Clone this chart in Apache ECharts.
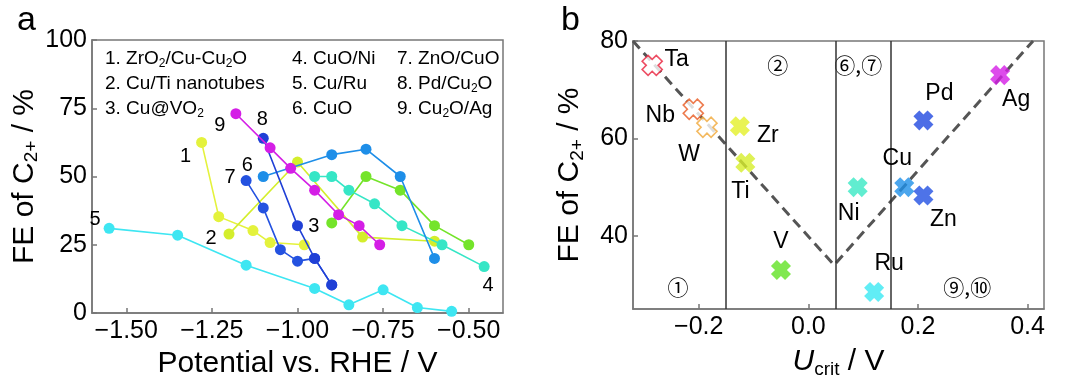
<!DOCTYPE html>
<html>
<head>
<meta charset="utf-8">
<script src="https://cdn.jsdelivr.net/npm/echarts@6/dist/echarts.min.js"></script>
<style>html,body{margin:0;padding:0;background:#fff;}#c{width:1080px;height:384px;}</style>
</head>
<body>
<div id="c"></div>
<script>
// ---------- Panel a data ----------
const seriesLabels = ['1','2','3','4','5','6','7','8','9'];
const legendRows = [
  ['{n|1. ZrO}{s|2}{n|/Cu-Cu}{s|2}{n|O}', '{n|4. CuO/Ni}', '{n|7. ZnO/CuO}'],
  ['{n|2. Cu/Ti nanotubes}', '{n|5. Cu/Ru}', '{n|8. Pd/Cu}{s|2}{n|O}'],
  ['{n|3. Cu@VO}{s|2}', '{n|6. CuO}', '{n|9. Cu}{s|2}{n|O/Ag}']
];
const s1 = [[-1.28,62.5],[-1.23,35.3],[-1.13,30.2],[-1.08,25.8],[-0.98,25]];
const s2 = [[-1.20,28.9],[-1.00,55.3],[-0.81,27.8],[-0.60,26.3]];
const s3 = [[-0.90,33],[-0.80,50],[-0.70,45],[-0.60,32],[-0.50,25]];
const s4 = [[-0.95,50],[-0.90,50],[-0.85,45],[-0.775,40],[-0.695,32],[-0.578,25],[-0.455,17]];
const s5 = [[-1.55,31],[-1.35,28.5],[-1.15,17.5],[-0.95,9],[-0.85,3],[-0.75,8.5],[-0.65,2],[-0.55,0.6]];
const s6 = [[-1.10,50],[-0.90,58],[-0.80,60],[-0.70,50],[-0.60,20]];
const s7 = [[-1.15,48.5],[-1.10,38.5],[-1.05,23.2],[-1.00,19],[-0.95,20],[-0.90,10.3]];
const s8 = [[-1.10,64],[-1.00,32],[-0.95,20],[-0.90,10.3]];
const s9 = [[-1.18,73],[-1.08,60.5],[-1.02,53],[-0.95,45],[-0.88,36],[-0.82,32],[-0.76,25]];
const aTicksX = [-1.5,-1.25,-1.0,-0.75,-0.5];
const aTicksY = [0,25,50,75,100];

// ---------- Panel b data ----------
const elements = ['Ta','Nb','W','Zr','Ti','V','Ni','Ru','Cu','Zn','Pd','Ag'];
const ucrit    = [-0.285,-0.21,-0.185,-0.125,-0.115,-0.05,0.09,0.12,0.175,0.21,0.21,0.35];
const feB      = [75,66,62.3,62.5,55,33,50,28.5,50,48.3,63.7,73];
const hollow   = [true,true,true,false,false,false,false,false,false,false,false,false];
const bTicksX = [-0.2,0.0,0.2,0.4];
const bTicksY = [40,60,80];
const dividers = [-0.155,0.047,0.147];
const vLine = [[-0.32,80],[0.047,34],[0.41,80]];
const regionLabels = ['①','②','⑥,⑦','⑨,⑩'];
const regionX = [-0.238,-0.056,0.091,0.29];
const regionY = [29.6,75,75,29.6];

// ---------- styles ----------
const FONT = 'Liberation Sans, Arial, Helvetica, sans-serif';
const INK = '#000';
const colorsA = ['#e4f23c','#d4ee2c','#74e42a','#36e6c6','#3ee6f2','#1e8ee8','#2452e0','#2040d6','#d41ee6'];
const colorsB = ['#e8203c','#e85a22','#f0a838','#e4f028','#d6ee2a','#62e224','#3ae8c4','#3ae8f2','#1e90e8','#2250e2','#2048e0','#d41ee6'];
const labelPos = [
  {idx:0, position:'left', offset:[0,14]},
  {idx:0, position:'left', offset:[-2,4]},
  {idx:0, position:'left', offset:[-2,4]},
  {idx:'last', position:'bottom', offset:[4,-2]},
  {idx:0, position:'left', offset:[2,-9]},
  {idx:0, position:'left', offset:[0,-11]},
  {idx:0, position:'left', offset:[0,-3]},
  {idx:0, position:'top', offset:[-1,2]},
  {idx:0, position:'left', offset:[0,12]}
];
const bLabelPos = [
  {position:'right', offset:[-6,-6]},
  {position:'left', offset:[0,6]},
  {position:'bottom', offset:[-18,-2]},
  {position:'right', offset:[0,9]},
  {position:'bottom', offset:[-5,0]},
  {position:'top', offset:[0,0]},
  {position:'bottom', offset:[-9,-2]},
  {position:'top', offset:[15,0]},
  {position:'top', offset:[-7,0]},
  {position:'bottom', offset:[20,-4]},
  {position:'top', offset:[16,2]},
  {position:'bottom', offset:[16,-4]}
];
const XPATH = 'path://M0.29,0 L0.71,0 L0.71,0.29 L1,0.29 L1,0.71 L0.71,0.71 L0.71,1 L0.29,1 L0.29,0.71 L0,0.71 L0,0.29 L0.29,0.29 Z';

const fmtA = v => (v < 0 ? '\u2212' : '') + Math.abs(v).toFixed(2);
const fmtB = v => (v < -1e-9 ? '\u2212' : '') + Math.abs(v).toFixed(1);

const richName = {
  n: {fontSize: 30, fontFamily: FONT, color: INK, lineHeight: 34},
  i: {fontSize: 30, fontFamily: FONT, fontStyle: 'italic', color: INK, lineHeight: 34},
  s: {fontSize: 19, fontFamily: FONT, color: INK, lineHeight: 19, verticalAlign: 'bottom'}
};
const richLegend = {
  n: {fontSize: 19, fontFamily: FONT, color: INK, lineHeight: 22},
  s: {fontSize: 12, fontFamily: FONT, color: INK, lineHeight: 12, verticalAlign: 'bottom'}
};
const labelText = (size, fam) => ({fontSize: size, fontFamily: fam || FONT, color: INK,
  textBorderWidth: 0, opacity: 1, fontWeight: 'normal'});

const axisCommon = {
  axisLine: {show: true, onZero: false, lineStyle: {color: '#777', width: 1.5}},
  axisTick: {show: true, inside: true, length: 5, lineStyle: {color: '#777', width: 1.5}},
  splitLine: {show: false},
  axisLabel: {fontSize: 25, fontFamily: FONT, color: INK}
};

const dataA = [s1,s2,s3,s4,s5,s6,s7,s8,s9];
const seriesA = dataA.map((d, k) => {
  const lp = labelPos[k];
  const li = lp.idx === 'last' ? d.length - 1 : lp.idx;
  return {
    type: 'line', xAxisIndex: 0, yAxisIndex: 0,
    symbol: 'circle', symbolSize: 11,
    lineStyle: {color: colorsA[k], width: 1.6},
    itemStyle: {color: colorsA[k]},
    emphasis: {disabled: true},
    z: 2 + k,
    data: d.map((p, j) => j === li ? {
      value: p,
      label: Object.assign({show: true, formatter: seriesLabels[k], position: lp.position, offset: lp.offset,
              distance: 5}, labelText(20))
    } : p)
  };
});

const seriesB = [
  {
    type: 'line', xAxisIndex: 1, yAxisIndex: 1, symbol: 'none', silent: true,
    lineStyle: {color: '#555', width: 3, type: [10, 6]},
    data: vLine,
    markLine: {
      silent: true, symbol: 'none', label: {show: false},
      lineStyle: {color: '#333', width: 1.5, type: 'solid'},
      data: dividers.map(v => ({xAxis: v}))
    },
    z: 3
  },
  {
    type: 'scatter', xAxisIndex: 1, yAxisIndex: 1, symbolSize: 1, silent: true,
    itemStyle: {opacity: 0},
    emphasis: {disabled: true},
    data: regionLabels.map((t, i) => ({
      value: [regionX[i], regionY[i]],
      label: Object.assign({show: true, formatter: t, position: 'inside'},
        labelText(21, 'Noto Sans CJK SC, DejaVu Sans, sans-serif'))
    })),
    z: 2
  },
  {
    type: 'scatter', xAxisIndex: 1, yAxisIndex: 1,
    symbol: XPATH, symbolSize: 20, symbolRotate: 45,
    emphasis: {disabled: true},
    z: 5,
    data: elements.map((e, i) => ({
      value: [ucrit[i], feB[i]],
      itemStyle: hollow[i]
        ? {color: '#fff', borderColor: colorsB[i], borderWidth: 1.6}
        : {color: colorsB[i]},
      label: Object.assign({show: true, formatter: e, position: bLabelPos[i].position,
        offset: bLabelPos[i].offset, distance: 3}, labelText(23))
    }))
  }
];

const graphic = [
  {type: 'text', left: 17, top: 4, style: {text: 'a', fontSize: 34, fontFamily: FONT, fill: INK}},
  {type: 'text', left: 561, top: 4, style: {text: 'b', fontSize: 34, fontFamily: FONT, fill: INK}}
];
const colX = [105, 292, 397];
const rowY = [49, 74, 99];
legendRows.forEach((row, r) => row.forEach((txt, c) => {
  graphic.push({type: 'text', left: colX[c], top: rowY[r], z: 10,
    style: {text: txt, rich: richLegend, fill: INK}});
}));

const chart = echarts.init(document.getElementById('c'), null, {renderer: 'canvas'});
chart.setOption({
  backgroundColor: '#fff',
  animation: false,
  grid: [
    {left: 92, right: 577, top: 40, bottom: 70, show: true, borderColor: '#777', borderWidth: 1.5},
    {left: 633, right: 36, top: 41, bottom: 68, show: true, borderColor: '#777', borderWidth: 1.5}
  ],
  xAxis: [
    Object.assign({}, axisCommon, {
      type: 'value', gridIndex: 0, min: -1.6, max: -0.4,
      name: 'Potential vs. RHE / V', nameLocation: 'middle', nameGap: 36,
      nameTextStyle: {fontSize: 30, fontFamily: FONT, color: INK},
      axisLabel: Object.assign({}, axisCommon.axisLabel, {customValues: aTicksX, formatter: fmtA, margin: 6}),
      axisTick: Object.assign({}, axisCommon.axisTick, {customValues: aTicksX})
    }),
    Object.assign({}, axisCommon, {
      type: 'value', gridIndex: 1, min: -0.32, max: 0.43,
      name: '{i|U}{s|crit}{n| / V}', nameLocation: 'middle', nameGap: 36,
      nameTextStyle: {rich: richName},
      axisLabel: Object.assign({}, axisCommon.axisLabel, {customValues: bTicksX, formatter: fmtB, margin: 6}),
      axisTick: Object.assign({}, axisCommon.axisTick, {customValues: bTicksX})
    })
  ],
  yAxis: [
    Object.assign({}, axisCommon, {
      type: 'value', gridIndex: 0, min: 0, max: 100,
      name: '{n|FE of C}{s|2+}{n| / %}', nameLocation: 'middle', nameGap: 50,
      nameTextStyle: {rich: richName},
      axisLabel: Object.assign({}, axisCommon.axisLabel, {customValues: aTicksY, margin: 5}),
      axisTick: Object.assign({}, axisCommon.axisTick, {customValues: aTicksY})
    }),
    Object.assign({}, axisCommon, {
      type: 'value', gridIndex: 1, min: 25, max: 80,
      name: '{n|FE of C}{s|2+}{n| / %}', nameLocation: 'middle', nameGap: 46,
      nameTextStyle: {rich: richName},
      axisLabel: Object.assign({}, axisCommon.axisLabel, {customValues: bTicksY, margin: 5}),
      axisTick: Object.assign({}, axisCommon.axisTick, {customValues: bTicksY})
    })
  ],
  graphic: graphic,
  series: seriesA.concat(seriesB)
});
</script>
</body>
</html>
